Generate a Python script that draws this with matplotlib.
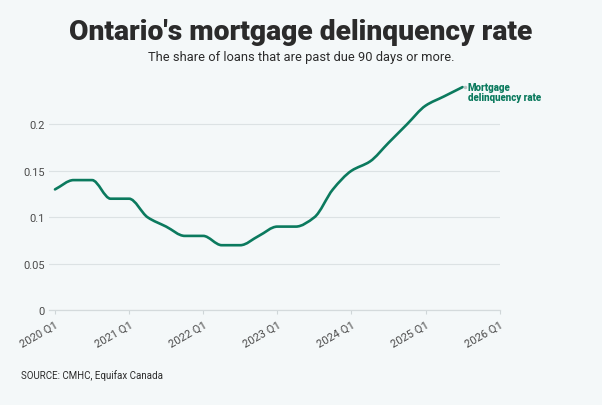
import numpy as np
import matplotlib.pyplot as plt
from matplotlib.path import Path
from matplotlib.patches import PathPatch

# quarterly Ontario mortgage delinquency rate (%), 2020 Q1 - 2025 Q3
quarters = np.arange(2020.0, 2025.51, 0.25)
rate = [0.13, 0.14, 0.14, 0.12, 0.12, 0.10, 0.09, 0.08, 0.08, 0.07, 0.07, 0.08,
        0.09, 0.09, 0.10, 0.13, 0.15, 0.16, 0.18, 0.20, 0.22, 0.23, 0.24]
year_ticks = np.arange(2020, 2027)
year_labels = ['%d Q1' % y for y in year_ticks]
y_ticks = [0, 0.05, 0.1, 0.15, 0.2]
y_labels = ['0', '0.05', '0.1', '0.15', '0.2']

bg = '#f4f8f9'
green = '#0b7a5e'
dark = '#2b2b2b'


def monotone_path(x, y):
    # monotone cubic (like d3 curveMonotoneX) expressed as bezier segments
    x = np.asarray(x, float)
    y = np.asarray(y, float)
    h = np.diff(x)
    d = np.diff(y) / h
    m = np.zeros(len(x))
    m[0], m[-1] = d[0], d[-1]
    for i in range(1, len(x) - 1):
        if d[i - 1] * d[i] <= 0:
            m[i] = 0
        else:
            m[i] = 3 * (h[i - 1] + h[i]) / ((2 * h[i] + h[i - 1]) / d[i - 1] + (h[i] + 2 * h[i - 1]) / d[i])
    verts = [(x[0], y[0])]
    codes = [Path.MOVETO]
    for i in range(len(x) - 1):
        dx = h[i] / 3
        verts += [(x[i] + dx, y[i] + m[i] * dx), (x[i + 1] - dx, y[i + 1] - m[i + 1] * dx), (x[i + 1], y[i + 1])]
        codes += [Path.CURVE4] * 3
    return Path(verts, codes)


plt.rcParams['font.family'] = ['Roboto', 'DejaVu Sans']

fig = plt.figure(figsize=(6.02, 4.06), dpi=100, facecolor=bg)
ax = fig.add_axes([49 / 602, 1 - 311.3 / 406, 450.6 / 602, 232.5 / 406])
ax.set_facecolor(bg)

ax.add_patch(PathPatch(monotone_path(quarters, rate), fill=False, edgecolor=green,
                       lw=1.9, capstyle='round', joinstyle='round', clip_on=False))
ax.plot(quarters[-1] + 0.03, rate[-1], 'o', ms=1.5, color='#b8c4c4', clip_on=False)

ax.set_xlim(2019.919, 2026.0)
ax.set_ylim(0, 0.25)

ax.set_yticks(y_ticks)
ax.set_yticklabels(y_labels)
ax.set_xticks(year_ticks)
ax.set_xticklabels(year_labels, rotation=30, ha='right', rotation_mode='anchor')
ax.grid(axis='y', color='#dce2e4', lw=0.8)
ax.tick_params(axis='y', length=0, pad=3, labelsize=8, labelcolor='#4a4a4a')
ax.tick_params(axis='x', length=3, width=0.8, color='#cfd6d8', pad=3, labelsize=8, labelcolor='#4a4a4a')
for s in ['top', 'right', 'left']:
    ax.spines[s].set_visible(False)
ax.spines['bottom'].set_color('#d4dadc')
ax.spines['bottom'].set_linewidth(0.9)
ax.set_axisbelow(True)

ax.text(2025.57, 0.2455, 'Mortgage\ndelinquency rate', color=green, fontsize=7,
        fontweight='heavy', ha='left', va='top', linespacing=0.95)

fig.text(0.5, 1 - 32 / 406, "Ontario's mortgage delinquency rate", ha='center', va='center',
         fontsize=20.3, fontweight='heavy', color=dark)
fig.text(0.5, 1 - 57 / 406, 'The share of loans that are past due 90 days or more.', ha='center',
         va='center', fontsize=9.3, color=dark)
fig.text(21 / 602, 1 - 376 / 406, 'SOURCE: CMHC, Equifax Canada', ha='left', va='center',
         fontsize=7, color=dark)

fig.savefig('out.png', dpi=100, facecolor=bg)
